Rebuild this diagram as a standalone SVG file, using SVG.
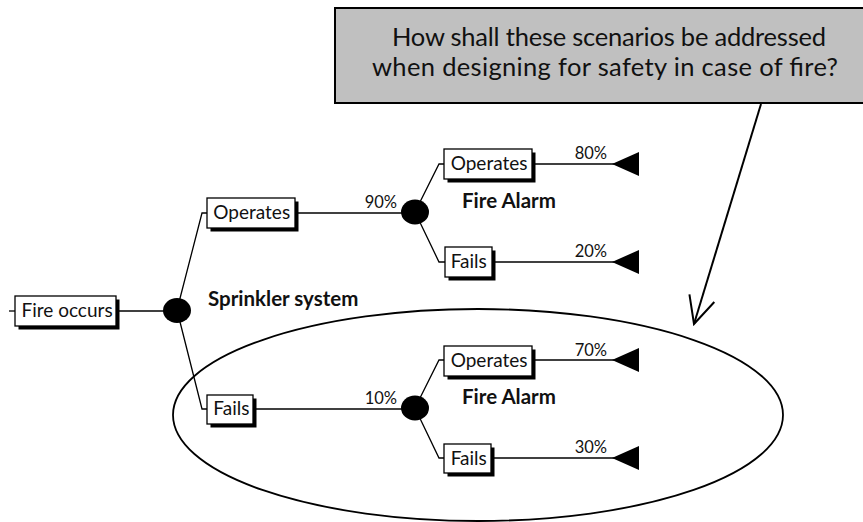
<svg xmlns="http://www.w3.org/2000/svg" width="863" height="522" viewBox="0 0 863 522">
<defs>
<style>
.box{fill:#fff;stroke:#000;stroke-width:1.3}
.sh{fill:#000}
.ln{fill:none;stroke:#000;stroke-width:1.3}
.lbl{font-family:Lato,"Open Sans",sans-serif;font-size:19px;fill:#111}
.pct{font-family:Lato,"Open Sans",sans-serif;font-size:16.5px;fill:#111;text-anchor:end}
.bold{font-family:Lato,"Open Sans",sans-serif;font-size:20.5px;font-weight:bold;fill:#111}
.chance{fill:#000}
.end{fill:#000}
.q{font-family:Lato,"Open Sans",sans-serif;font-size:25.5px;fill:#111;text-anchor:middle}
</style>
<marker id="open" viewBox="0 0 30 30" refX="28" refY="15" markerWidth="30" markerHeight="30" markerUnits="userSpaceOnUse" orient="auto">
<path d="M1,2 L28,15 L1,28" fill="none" stroke="#000" stroke-width="2"/>
</marker>
</defs>
<rect width="863" height="522" fill="#fff"/>

<g id="question">
<rect x="335" y="8" width="540" height="95" fill="#c0c0c0" stroke="#000" stroke-width="2"/>
<text class="q" x="609" y="45.5" textLength="434">How shall these scenarios be addressed</text>
<text class="q" x="605" y="76" textLength="466">when designing for safety in case of fire?</text>
</g>

<g id="highlight">
<ellipse cx="478" cy="415" rx="305" ry="106" fill="none" stroke="#000" stroke-width="1.8"/>
</g>

<g id="connectors">
<line class="ln" x1="9" y1="311" x2="15" y2="311"/>
<line class="ln" x1="116" y1="311" x2="177" y2="311"/>
<polyline class="ln" points="177,310 202,213 207,213"/>
<polyline class="ln" points="177,310 202,409 207,409"/>
<line class="ln" x1="295" y1="213" x2="415" y2="213"/>
<line class="ln" x1="253" y1="409" x2="415" y2="409"/>
<polyline class="ln" points="415,212 439,164 444,164"/>
<polyline class="ln" points="415,212 439,262 445,262"/>
<polyline class="ln" points="415,408 439,360 444,360"/>
<polyline class="ln" points="415,408 439,458 444,458"/>
<line class="ln" x1="532" y1="164" x2="614" y2="164"/>
<line class="ln" x1="492" y1="262" x2="614" y2="262"/>
<line class="ln" x1="532" y1="360" x2="614" y2="360"/>
<line class="ln" x1="491" y1="458" x2="614" y2="458"/>
<line x1="761" y1="104" x2="694" y2="324" stroke="#000" stroke-width="2" marker-end="url(#open)"/>
</g>

<g id="fire-occurs">
<rect class="sh" x="18.5" y="299.5" width="101" height="30"/>
<rect class="box" x="15" y="296" width="101" height="30"/>
<text class="lbl" x="21.5" y="317">Fire occurs</text>
</g>

<g id="sprinkler">
<ellipse class="chance" cx="177" cy="310.5" rx="14" ry="12.5"/>
<text class="bold" x="208" y="305.5">Sprinkler system</text>
</g>

<g id="sprinkler-operates">
<rect class="sh" x="210.5" y="201.5" width="88" height="30"/>
<rect class="box" x="207" y="198" width="88" height="30"/>
<text class="lbl" x="213.3" y="218.5">Operates</text>
</g>

<g id="sprinkler-fails">
<rect class="sh" x="210.5" y="398.5" width="46" height="29"/>
<rect class="box" x="207" y="395" width="46" height="29"/>
<text class="lbl" x="213.3" y="414.5">Fails</text>
</g>

<g id="alarm1">
<text class="pct" x="397" y="208">90%</text>
<ellipse class="chance" cx="415" cy="212" rx="14" ry="12.5"/>
<text class="bold" x="462" y="208">Fire Alarm</text>
</g>

<g id="alarm1-operates">
<rect class="sh" x="447.5" y="152.5" width="88" height="30"/>
<rect class="box" x="444" y="149" width="88" height="30"/>
<text class="lbl" x="450.7" y="169.5">Operates</text>
</g>
<g id="end-80">
<text class="pct" x="607" y="159">80%</text>
<polygon class="end" points="612,164 639,152 639,176"/>
</g>

<g id="alarm1-fails">
<rect class="sh" x="448.5" y="250.5" width="47" height="30"/>
<rect class="box" x="445" y="247" width="47" height="30"/>
<text class="lbl" x="450.7" y="267.5">Fails</text>
</g>
<g id="end-20">
<text class="pct" x="607" y="257">20%</text>
<polygon class="end" points="612,262 639,250 639,274"/>
</g>

<g id="alarm2">
<text class="pct" x="397" y="404">10%</text>
<ellipse class="chance" cx="415" cy="408" rx="14" ry="12.5"/>
<text class="bold" x="462" y="404">Fire Alarm</text>
</g>

<g id="alarm2-operates">
<rect class="sh" x="447.5" y="349.5" width="88" height="30"/>
<rect class="box" x="444" y="346" width="88" height="30"/>
<text class="lbl" x="450.7" y="366.5">Operates</text>
</g>
<g id="end-70">
<text class="pct" x="607" y="356">70%</text>
<polygon class="end" points="612,360 639,348 639,372"/>
</g>

<g id="alarm2-fails">
<rect class="sh" x="447.5" y="447.5" width="47" height="29"/>
<rect class="box" x="444" y="444" width="47" height="29"/>
<text class="lbl" x="450.7" y="464.5">Fails</text>
</g>
<g id="end-30">
<text class="pct" x="607" y="453">30%</text>
<polygon class="end" points="612,458 639,446 639,470"/>
</g>
</svg>
